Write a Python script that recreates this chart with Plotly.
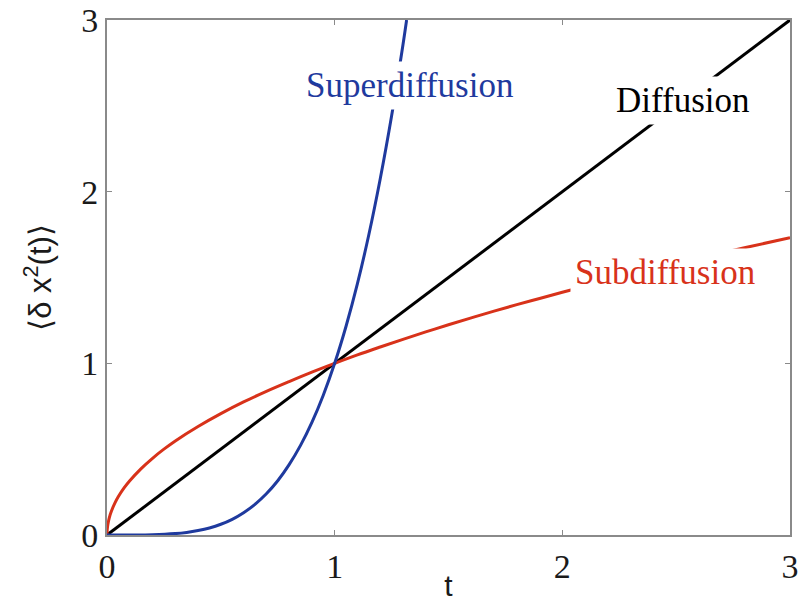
import plotly.graph_objects as go

# diffusion curves
t_diff = [0, 0.5, 1.0, 1.5, 2.0, 2.5, 3.0]
y_diff = [0, 0.5, 1.0, 1.5, 2.0, 2.5, 3.0]

t_super = [0, 0.1, 0.2, 0.3, 0.35, 0.4, 0.45, 0.5, 0.55, 0.6, 0.65, 0.7, 0.75, 0.8, 0.85, 0.9, 0.95,
           1.0, 1.05, 1.1, 1.15, 1.2, 1.25, 1.3, 1.316]
y_super = [0, 0.0001, 0.0016, 0.0081, 0.015, 0.026, 0.041, 0.0625, 0.0915, 0.13, 0.1785, 0.24, 0.316,
           0.41, 0.522, 0.656, 0.8145, 1.0, 1.216, 1.464, 1.749, 2.074, 2.441, 2.856, 3.0]

t_sub = [0, 0.001, 0.004, 0.01, 0.02, 0.035, 0.05, 0.075, 0.1, 0.15, 0.2, 0.25, 0.3, 0.4, 0.5,
         0.6, 0.7, 0.8, 0.9, 1.0, 1.1, 1.2, 1.3, 1.4, 1.5, 1.6, 1.7, 1.8, 1.9, 2.0, 2.2, 2.4,
         2.6, 2.8, 3.0]
y_sub = [0, 0.032, 0.063, 0.1, 0.141, 0.187, 0.224, 0.274, 0.316, 0.387, 0.447, 0.5, 0.548, 0.632,
         0.707, 0.775, 0.837, 0.894, 0.949, 1.0, 1.049, 1.095, 1.14, 1.183, 1.225, 1.265, 1.304,
         1.342, 1.378, 1.414, 1.483, 1.549, 1.612, 1.673, 1.732]

labels = ["Superdiffusion", "Diffusion", "Subdiffusion"]
label_x = [1.33, 2.53, 2.45]
label_y = [2.62, 2.53, 1.53]
colors = ["#1f3a9e", "black", "#d8321a"]

fig = go.Figure()
fig.add_trace(go.Scatter(x=t_diff, y=y_diff, mode="lines", line=dict(color=colors[1], width=3)))
fig.add_trace(go.Scatter(x=t_sub, y=y_sub, mode="lines", line=dict(color=colors[2], width=3, shape="spline")))
fig.add_trace(go.Scatter(x=t_super, y=y_super, mode="lines", line=dict(color=colors[0], width=3, shape="spline")))

for txt, x, y, c in zip(labels, label_x, label_y, colors):
    fig.add_annotation(x=x, y=y, xref="x", yref="y", text=txt, showarrow=False,
                       font=dict(family="Liberation Serif", size=35, color=c),
                       bgcolor="white", borderpad=4)

axis_style = dict(range=[0, 3], tickvals=[0, 1, 2, 3], showgrid=False, zeroline=False,
                  showline=True, linecolor="#8a8a8a", linewidth=2, mirror="ticks",
                  ticks="inside", ticklen=5, tickcolor="#8a8a8a", automargin=False,
                  tickfont=dict(family="Liberation Serif", size=34, color="#1a1a1a"))

fig.update_xaxes(**axis_style, title=dict(text="t", standoff=0,
                 font=dict(family="Liberation Sans", size=30, color="#1a1a1a")))
fig.update_yaxes(**axis_style, title=dict(text="⟨δ x<sup>2</sup>(t)⟩", standoff=20,
                 font=dict(family="Liberation Sans", size=31, color="#1a1a1a")))

fig.update_layout(width=804, height=602, margin=dict(l=107, r=14, t=20, b=67),
                  plot_bgcolor="white", paper_bgcolor="white", showlegend=False)

# drop the default 8px page margin so the figure fills the window
fig.write_html("out.html", config={"displayModeBar": False},
               post_script="document.body.style.margin='0px';")
